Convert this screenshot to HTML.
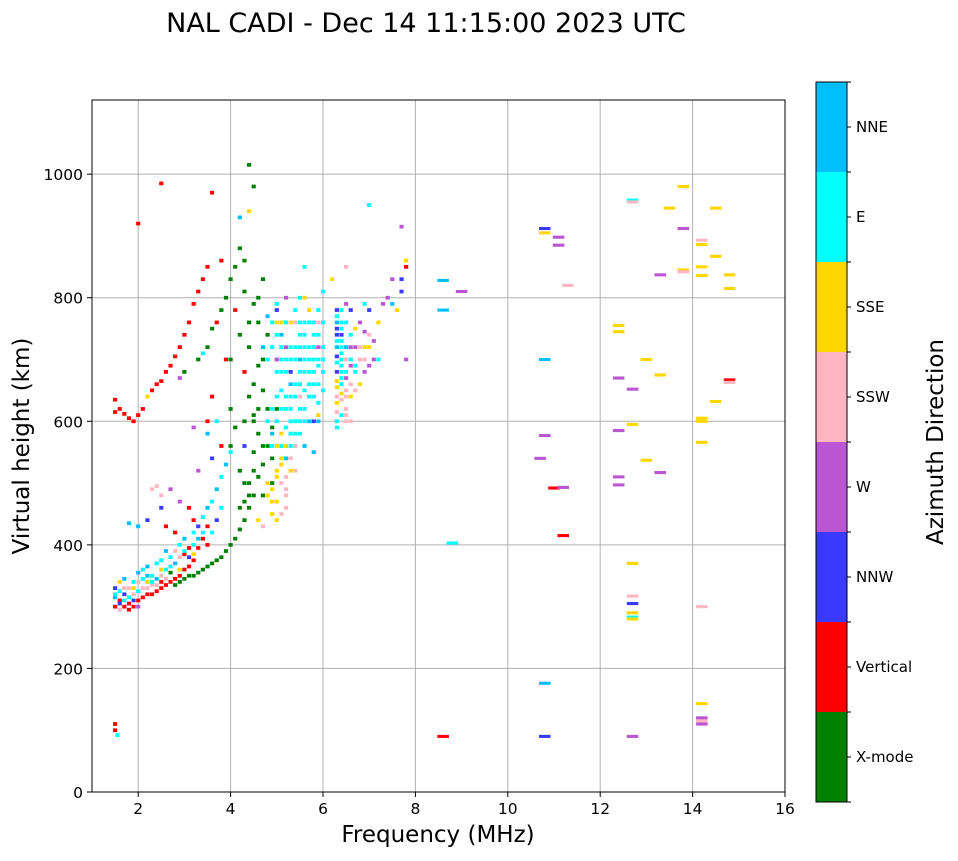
<!DOCTYPE html>
<html><head><meta charset="utf-8">
<style>
body{margin:0;background:#fff;font-family:"DejaVu Sans",sans-serif;}
svg text{font-family:"DejaVu Sans",sans-serif;}
</style></head>
<body>
<svg id="chart" width="958" height="857" xmlns="http://www.w3.org/2000/svg">
<text x="426" y="32" font-size="27" text-anchor="middle">NAL CADI - Dec 14 11:15:00 2023 UTC</text>
<g id="grid"></g>
<g id="marks"></g>
<rect x="92" y="100" width="693" height="692" fill="none" stroke="#000" stroke-width="1"/>
<g id="axes"></g>
<text x="438" y="842" font-size="23" text-anchor="middle">Frequency (MHz)</text>
<text transform="translate(29,446) rotate(-90)" font-size="23" text-anchor="middle">Virtual height (km)</text>
<g id="cbar"></g>
<text transform="translate(943,442) rotate(-90)" font-size="23" text-anchor="middle">Azimuth Direction</text>
</svg>
<script>
const categories=["X-mode","Vertical","NNW","W","SSW","SSE","E","NNE"];
const catColors=["#008000","#ff0000","#3a3aff","#ba55d3","#ffb6c1","#ffd700","#00ffff","#00bfff"];
const xTicks=[2,4,6,8,10,12,14,16];
const yTicks=[0,200,400,600,800,1000];
const freqs=[1.5,1.5,1.5,1.6,1.6,1.6,1.6,1.7,1.7,1.7,1.8,1.8,1.8,1.9,1.9,1.9,2.0,2.0,2.0,2.0,2.1,2.1,2.1,2.2,2.2,2.2,2.3,2.3,2.3,2.4,2.4,2.4,2.5,2.5,2.5,2.6,2.6,2.6,2.7,2.7,2.7,2.8,2.8,2.8,2.9,2.9,2.9,3.0,3.0,3.0,3.1,3.1,3.1,3.2,3.2,3.2,3.3,3.3,3.3,3.4,3.4,3.4,3.5,3.5,3.5,3.6,3.6,3.7,3.7,3.8,3.8,3.9,3.9,4.0,4.0,4.1,4.2,4.3,4.3,4.4,4.4,4.5,4.5,4.6,4.7,4.8,4.9,5.0,
2.8,3.0,3.2,3.1,2.6,2.3,2.4,2.5,2.5,2.2,2.0,1.8,2.7,2.9,3.3,3.6,3.5,3.7,
1.5,1.6,1.7,1.8,1.9,2.0,2.1,2.2,2.3,2.4,2.5,2.6,2.7,2.8,2.9,3.0,3.1,3.2,3.3,3.4,3.5,3.6,2.5,2.0,3.8,1.5,1.5,1.5,1.55,
3.3,3.5,3.6,3.8,3.9,4.0,4.1,3.4,3.7,3.9,3.6,3.8,3.5,3.2,3.0,2.9,
4.2,4.3,4.4,4.5,4.4,4.2,4.3,4.5,4.6,4.4,4.6,4.7,4.8,4.5,4.6,4.7,4.9,4.6,4.7,4.3,4.2,4.1,4.0,4.0,4.3,4.5,4.9,4.7,
4.8,4.9,5.0,5.0,5.1,5.1,5.2,5.2,5.2,5.3,5.3,5.3,5.4,5.4,5.4,5.4,5.5,5.5,5.5,5.6,5.6,5.6,5.6,5.6,5.7,5.7,5.7,5.8,5.8,5.8,5.9,5.9,5.9,6.0,6.0,5.0,4.9,5.1,5.2,5.3,5.5,5.7,5.8,5.9,5.1,5.0,5.5,4.7,5.3,5.6,5.0,5.2,6.0,5.9,5.4,
4.8,4.8,4.9,5.0,5.0,5.1,5.1,5.2,5.2,5.3,5.3,5.4,4.9,4.7,5.2,5.0,5.1,4.6,
6.3,6.3,6.3,6.3,6.3,6.4,6.4,6.4,6.4,6.5,6.5,6.5,6.5,6.5,6.6,6.6,6.6,6.6,6.7,6.7,6.7,6.8,6.8,6.8,6.9,6.9,7.0,7.0,7.0,7.1,7.2,7.3,7.4,7.5,7.6,7.7,7.7,7.8,7.8,7.5,7.7,7.1,6.3,6.6,6.2,7.0,7.8,6.9,6.5,
8.6,8.6,9.0,8.8,8.6,10.8,10.8,11.1,11.1,11.3,10.8,10.8,10.7,11.0,11.2,11.2,10.8,10.8,12.4,12.4,12.4,12.4,12.4,12.4,12.7,12.7,12.7,12.7,12.7,12.7,12.7,12.7,12.7,12.7,12.7,13.0,13.0,13.3,13.3,13.3,13.5,13.8,13.8,13.8,13.8,14.2,14.2,14.2,14.2,14.2,14.2,14.2,14.2,14.2,14.2,14.2,14.2,14.5,14.5,14.5,14.8,14.8,14.8,14.8];
const heights=[300,315,330,295,310,325,340,300,320,345,305,315,330,300,310,340,310,300,325,355,315,330,360,320,340,365,320,335,350,325,345,370,330,350,375,335,360,390,340,355,380,345,335,390,350,340,400,360,345,410,365,350,380,375,350,420,395,355,430,410,360,445,430,365,460,370,470,375,490,380,510,390,530,400,550,410,425,440,470,460,500,480,550,510,530,560,590,620,
420,385,440,460,430,490,495,480,460,440,430,435,490,470,520,540,580,600,
615,620,612,605,600,610,620,640,650,660,665,680,690,705,720,740,760,790,810,830,850,970,985,920,860,635,110,100,92,
700,720,750,780,800,830,850,710,760,700,640,560,600,590,680,670,
880,860,1015,980,940,930,810,790,760,720,690,650,620,600,580,560,540,800,830,680,740,780,700,620,560,520,500,480,
700,720,680,740,650,700,620,680,760,600,640,700,580,660,720,780,620,680,740,600,650,700,760,850,640,680,720,660,700,740,630,690,780,700,650,600,560,560,540,660,700,600,550,600,740,780,800,720,760,800,760,800,810,720,560,
480,500,490,520,470,540,500,560,490,580,520,600,450,430,460,560,580,440,
600,640,680,720,760,610,660,700,740,620,680,720,760,790,640,700,740,780,650,690,720,660,700,760,680,720,690,740,780,700,760,790,800,790,780,810,830,850,860,830,915,730,590,600,830,950,700,790,850,
780,828,810,403,90,912,905,898,885,820,700,577,540,492,493,415,176,90,755,745,670,585,510,497,958,955,652,595,370,317,305,290,283,280,90,700,537,675,837,517,945,980,912,845,842,893,886,850,836,605,600,566,300,143,120,115,110,945,867,632,837,815,667,663];
const cats=[1,7,2,4,1,6,5,1,2,7,1,6,4,1,2,6,1,3,6,7,1,4,6,1,5,7,1,4,6,1,7,6,1,4,6,1,6,7,1,0,6,1,0,4,1,0,6,1,0,7,1,0,2,1,0,6,1,0,2,1,0,6,1,0,7,0,6,0,7,0,6,0,7,0,6,0,0,0,0,0,0,0,0,0,0,0,0,0,
1,1,1,1,1,4,4,4,2,2,7,7,3,3,3,2,7,6,
1,1,1,1,1,1,1,5,1,1,1,1,1,1,1,1,1,1,1,1,1,1,1,1,1,1,1,1,6,
0,0,0,0,0,0,0,6,1,1,1,1,1,3,0,3,
0,0,0,0,5,7,0,0,0,0,0,0,0,0,0,0,0,0,0,1,0,1,0,0,2,0,0,0,
6,6,6,6,6,6,6,6,6,6,6,6,6,6,6,6,6,6,6,6,6,6,6,6,6,6,6,6,6,6,6,6,6,6,6,6,6,6,7,7,7,7,7,7,7,2,6,7,5,5,5,3,6,3,6,
5,5,5,5,5,5,4,5,4,5,5,5,5,4,4,5,5,5,
5,4,2,7,7,6,5,6,2,4,6,7,6,3,5,6,6,2,4,6,3,5,4,3,3,5,3,4,2,3,5,3,3,7,5,2,2,1,5,3,3,3,6,4,5,6,3,6,4,
7,7,3,6,1,2,5,3,3,4,7,3,3,1,3,1,7,2,5,5,3,3,3,3,6,4,3,5,5,4,2,5,6,5,3,5,5,5,3,3,5,5,3,5,4,4,5,5,5,5,5,5,4,5,3,4,3,5,5,5,5,5,1,4];
const extraFreqs=[6.3,6.3,6.3,6.3,6.3,6.3,6.3,6.3,6.3,6.3,6.3,6.3,6.4,6.4,6.4,6.4,6.4,6.4,6.4,6.4,6.4,6.4,6.4,6.4,6.5,6.5,6.5,6.5,6.5,6.5,6.6,6.6,6.6,6.7,6.7,6.8,6.9,7.0,7.2,6.9,
4.9,5.0,5.1,5.1,5.1,5.2,5.2,5.2,5.3,5.3,5.3,5.4,5.4,5.4,5.5,5.5,5.5,5.5,5.5,5.6,5.6,5.6,5.6,5.7,5.7,5.7,5.8,5.8,5.8,5.8,5.9,5.9,5.9,6.0,6.0,6.0,4.9,5.0,4.8,4.9,5.6,5.4,5.5,5.9,5.7,5.1,4.8,5.0,5.2,5.3,5.8,5.9,5.3,5.1,5.0,5.2,5.3,5.4,4.9,5.0,5.2,5.4,5.1,
4.5,4.6,4.4,4.5,4.7,4.8,4.4,4.3,4.2,4.3,4.4,4.2,4.0,4.1,
1.5,1.6,1.7,1.8,1.9,2.0,2.1,2.2,2.3,2.4,2.5,2.6,2.7,2.8,2.9,3.0,3.1,3.2,3.3,3.4,3.5,3.6,3.7,3.8,2.2,1.9,1.7,2.5,2.9,3.2];
const extraHeights=[780,770,750,740,730,705,695,665,655,630,615,600,780,760,750,730,720,710,690,680,670,660,645,635,700,670,650,640,610,600,720,690,660,750,680,720,700,720,700,745,
760,790,720,680,620,700,640,590,720,620,580,700,640,600,760,720,660,600,580,740,720,680,620,760,700,660,760,720,680,640,740,700,660,760,720,680,620,640,600,580,560,760,640,760,780,760,770,700,720,680,600,610,560,530,510,510,540,520,470,440,480,560,450,
610,620,640,660,700,740,760,600,520,500,480,460,560,590,
320,305,310,295,320,340,345,330,340,335,340,345,365,370,380,390,395,400,410,420,400,420,440,460,350,330,330,360,360,385];
const extraCats=[2,6,2,2,6,2,6,5,5,5,4,6,6,6,6,6,6,6,6,6,6,6,5,4,4,3,4,4,4,4,3,3,4,5,6,4,4,5,6,3,
6,6,6,6,6,6,6,6,6,6,6,6,6,6,6,6,6,6,6,6,6,6,6,6,6,6,6,6,6,6,6,6,6,6,6,6,6,6,6,7,7,4,4,4,5,5,7,3,3,2,2,5,6,5,5,4,4,4,5,5,4,4,4,
0,0,0,0,0,0,0,0,0,0,0,0,0,0,
6,2,6,1,4,4,6,4,6,4,1,4,6,7,4,6,1,6,7,6,1,6,2,6,7,5,4,5,5,5];

const NS="http://www.w3.org/2000/svg";
const X0=92,X1=785,Y0=792,Y1=100,FMIN=1,FMAX=16,HMIN=0,HMAX=1120;
function xs(f){return X0+(f-FMIN)/(FMAX-FMIN)*(X1-X0);}
function ys(h){return Y0-(h-HMIN)/(HMAX-HMIN)*(Y0-Y1);}
function mk(tag,attrs,parent){const e=document.createElementNS(NS,tag);for(const k in attrs)e.setAttribute(k,attrs[k]);parent.appendChild(e);return e;}
const grid=document.getElementById('grid'),axes=document.getElementById('axes'),marks=document.getElementById('marks'),cbar=document.getElementById('cbar');
xTicks.forEach(t=>{
  const x=xs(t);
  if(t<FMAX){const g=mk('line',{x1:x,x2:x,y1:Y1,y2:Y0,stroke:'#b0b0b0','stroke-width':1},grid);
  
  }
  mk('line',{x1:x,x2:x,y1:Y0,y2:Y0+5,stroke:'#000'},axes);
  const tx=mk('text',{x:x,y:Y0+22,'font-size':15.5,'text-anchor':'middle'},axes);
  
  
  tx.textContent=t;
});
yTicks.forEach(t=>{
  const y=ys(t);
  const g=mk('line',{x1:X0,x2:X1,y1:y,y2:y,stroke:'#b0b0b0','stroke-width':1},grid);
  
  
  mk('line',{x1:X0-5,x2:X0,y1:y,y2:y,stroke:'#000'},axes);
  const tx=mk('text',{x:X0-9,y:y+6,'font-size':15.5,'text-anchor':'end'},axes);
  
  
  tx.textContent=t;
});
const allF=freqs.concat(extraFreqs),allH=heights.concat(extraHeights),allC=cats.concat(extraCats);
for(let i=0;i<allF.length;i++){
  const f=allF[i],h=allH[i];
  const w=f<8?0.09:0.25;
  const hh=f<8?6:5;
  const r=mk('rect',{x:xs(f-w/2),y:ys(h+hh/2),width:xs(f+w/2)-xs(f-w/2),height:ys(h-hh/2)-ys(h+hh/2),fill:catColors[allC[i]]},marks);
  
  
}
const CB_X=816,CB_W=31,CB_TOP=82,CB_BOT=802;
const segH=(CB_BOT-CB_TOP)/categories.length;
categories.forEach((c,i)=>{
  const y=CB_BOT-(i+1)*segH;
  const r=mk('rect',{x:CB_X,y:y,width:CB_W,height:segH,fill:catColors[i]},cbar);
  
  
  const ty=y+segH/2;
  mk('line',{x1:CB_X+CB_W,x2:CB_X+CB_W+4,y1:ty,y2:ty,stroke:'#000'},cbar);
  mk('line',{x1:CB_X+CB_W,x2:CB_X+CB_W+4,y1:y,y2:y,stroke:'#000'},cbar);
  const tx=mk('text',{x:CB_X+CB_W+9,y:ty+5,'font-size':15},cbar);
  
  
  tx.textContent=c;
});
mk('line',{x1:CB_X+CB_W,x2:CB_X+CB_W+4,y1:CB_BOT,y2:CB_BOT,stroke:'#000'},cbar);
mk('rect',{x:CB_X,y:CB_TOP,width:CB_W,height:CB_BOT-CB_TOP,fill:'none',stroke:'#000'},cbar);
</script>
</body></html>
